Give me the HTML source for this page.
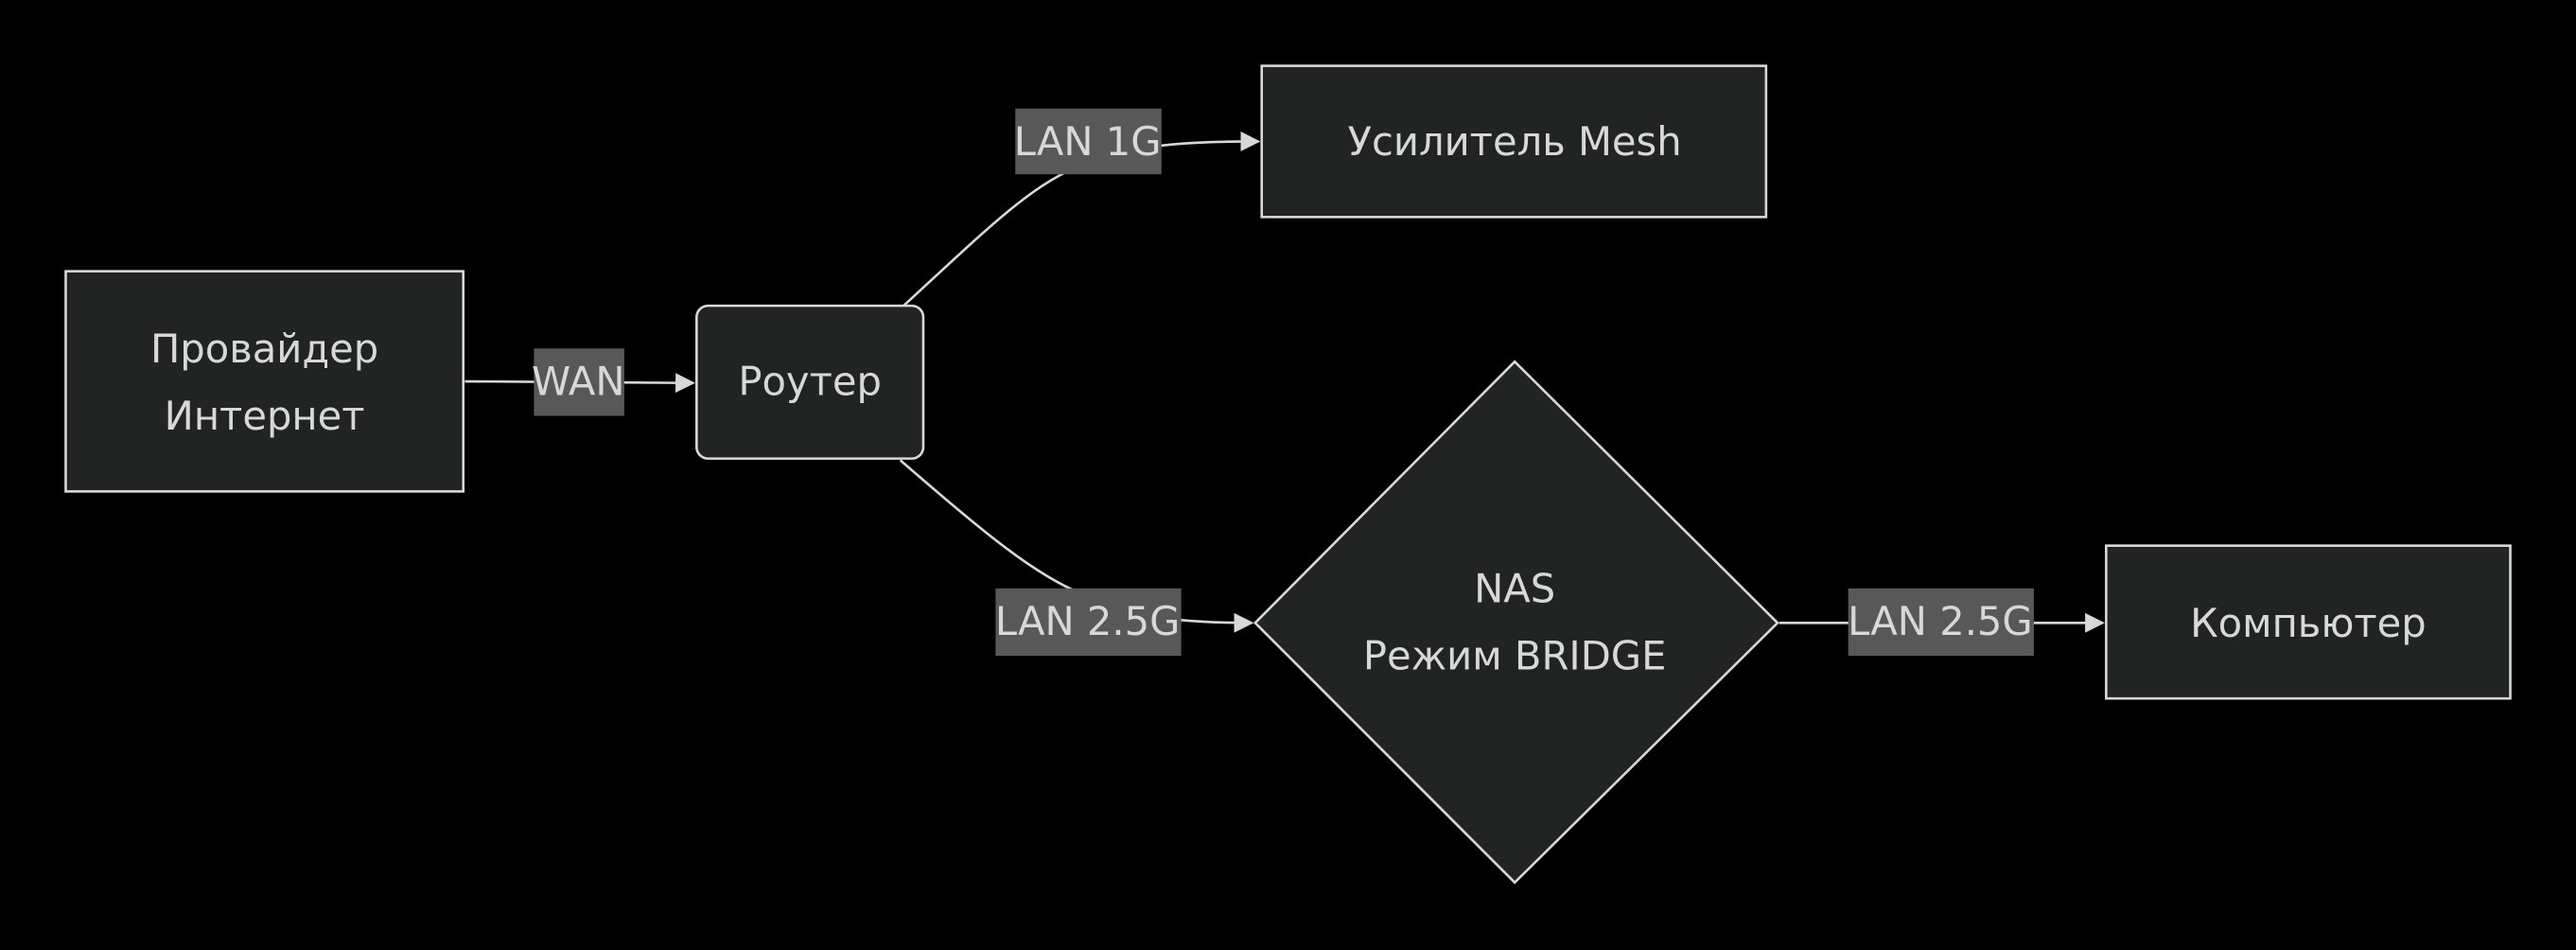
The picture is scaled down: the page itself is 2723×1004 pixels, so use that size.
<!DOCTYPE html>
<html><head><meta charset="utf-8"><style>
html,body{margin:0;padding:0;background:#000;}
svg{display:block;}
text{font-family:"DejaVu Sans","Liberation Sans",sans-serif;fill:#d8d8d8;font-size:24px;}
</style></head><body>
<svg width="2723" height="1004" viewBox="0 0 1568 578" xmlns="http://www.w3.org/2000/svg">
<defs>
<marker id="a" viewBox="0 0 10 10" refX="9" refY="5" markerWidth="12" markerHeight="12" markerUnits="userSpaceOnUse" orient="auto">
<path d="M0,0 L10,5 L0,10 z" fill="#d8d8d8"/></marker>
</defs>
<rect width="1568" height="578" fill="#000"/>
<g fill="none" stroke="#d8d8d8" stroke-width="1.5">
<path d="M283,232 L422,233" marker-end="url(#a)"/>
<path d="M550,186 C600,140 630,110 660,100 C690,88 720,86 766,86" marker-end="url(#a)"/>
<path d="M548,280 C600,325 630,350 660,362 C690,376 720,379 762,379" marker-end="url(#a)"/>
<path d="M1083,379 L1280,379" marker-end="url(#a)"/>
</g>
<g fill="#222323" stroke="#d8d8d8" stroke-width="1.5">
<rect x="40" y="165" width="242" height="134"/>
<rect x="424" y="186" width="138" height="93" rx="7"/>
<rect x="768" y="40" width="307" height="92"/>
<polygon points="922,220 1082,379 922,537 764,379"/>
<rect x="1282" y="332" width="246" height="93"/>
</g>
<g fill="#585858">
<rect x="325" y="212" width="55" height="41"/>
<rect x="618" y="66" width="89" height="40"/>
<rect x="606" y="358" width="113" height="41"/>
<rect x="1125" y="358" width="113" height="41"/>
</g>
<g text-anchor="middle" dominant-baseline="central">
<text x="161" y="212">Провайдер</text>
<text x="161" y="253">Интернет</text>
<text x="493" y="232">Роутер</text>
<text x="922" y="86">Усилитель Mesh</text>
<text x="922" y="358">NAS</text>
<text x="922" y="399">Режим BRIDGE</text>
<text x="1405" y="379">Компьютер</text>
<text x="352" y="232">WAN</text>
<text x="662" y="86">LAN 1G</text>
<text x="662" y="378">LAN 2.5G</text>
<text x="1181" y="378">LAN 2.5G</text>
</g>
</svg>
</body></html>
